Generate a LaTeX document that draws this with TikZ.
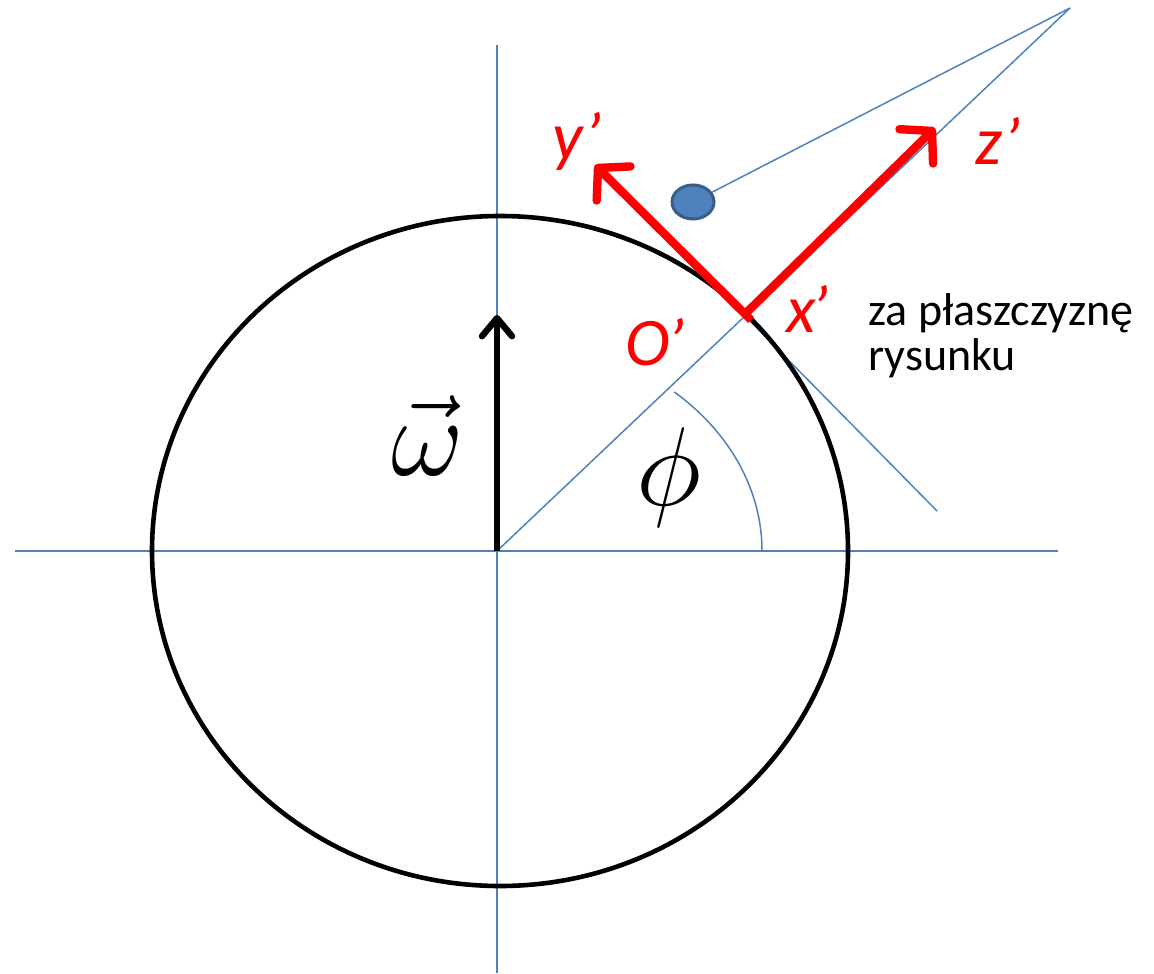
\documentclass[tikz,border=0pt]{standalone}
\usepackage{graphicx}
\usepackage{fontspec}
\setmainfont{Carlito}
\usetikzlibrary{arrows.meta,shapes.geometric}
\definecolor{axblue}{HTML}{4F81BD}
\definecolor{bobedge}{HTML}{385D8A}
\newcommand{\bigmath}[1]{\scalebox{2.25}{\fontsize{24.88}{30}\selectfont$#1$}}
\begin{document}
\begin{tikzpicture}[x=0.5pt,y=-0.5pt,
  blueline/.style={draw=axblue,line width=0.75pt},
  redarrow/.style={draw=red,line width=4.2pt,-{Straight Barb[length=11pt,width=24pt,round]}},
  redlab/.style={text=red,font=\fontsize{34}{40}\selectfont\itshape,anchor=base west,inner sep=0pt},
  note/.style={font=\fontsize{23}{28}\selectfont,anchor=base west,inner sep=0pt},
  mathlab/.style={inner sep=0pt}]
\useasboundingbox (0,0) rectangle (1154,973);
% coordinates
\coordinate (C) at (497,551);
\coordinate (Ec) at (500,551);
\coordinate (Vtop) at (497,45);
\coordinate (Vbot) at (497,973);
\coordinate (Hl) at (15,551);
\coordinate (Hr) at (1058,551);
\coordinate (apex) at (1070,8);
\coordinate (Op) at (745,314);
\coordinate (Opy) at (751,320);
\coordinate (tanA) at (620,189);
\coordinate (tanB) at (937,511);
\coordinate (ytip) at (595,165);
\coordinate (ztip) at (935,128);
\coordinate (wtip) at (497,315);
\coordinate (arcS) at (762,551);
% axes and construction lines
\draw[blueline] (Vtop) -- (Vbot);
\draw[blueline] (Hl) -- (Hr);
\draw[blueline] (C) -- (apex);
\draw[blueline] (tanA) -- (tanB);
\draw[blueline] (arcS) arc[start angle=0,end angle=48,x radius=132.5pt,y radius=107pt];
% Earth
\draw[black,line width=2.3pt] (Ec) ellipse [x radius=174pt,y radius=167.5pt];
% omega arrow
\draw[black,line width=3.2pt,-{Straight Barb[length=9pt,width=15pt,round]}] (C) -- (wtip);
\node[mathlab] (wlab) at (428,436) {\bigmath{\vec{\omega}}};
\node[mathlab] (philab) at (669,478) {\bigmath{\phi}};
% pendulum
\node[ellipse,draw=bobedge,line width=1.5pt,fill=axblue,minimum width=21pt,minimum height=17pt,inner sep=0pt] (bob) at (693,202) {};
\draw[blueline] (bob) -- (apex);
% local axes
\draw[redarrow] (Opy) -- (ytip);
\draw[redarrow] (Op) -- (ztip);
\node[redlab] (ylab) at (552,160) {y’};
\node[redlab] (zlab) at (975,165) {z’};
\node[redlab] (xlab) at (786,332) {x\kern-2pt’};
\node[redlab] (Olab) at (625,365) {O\kern-1pt’};
\node[note] (n1) at (868,325) {za płaszczyznę};
\node[note] (n2) at (868,370) {rysunku};
\end{tikzpicture}
\end{document}
